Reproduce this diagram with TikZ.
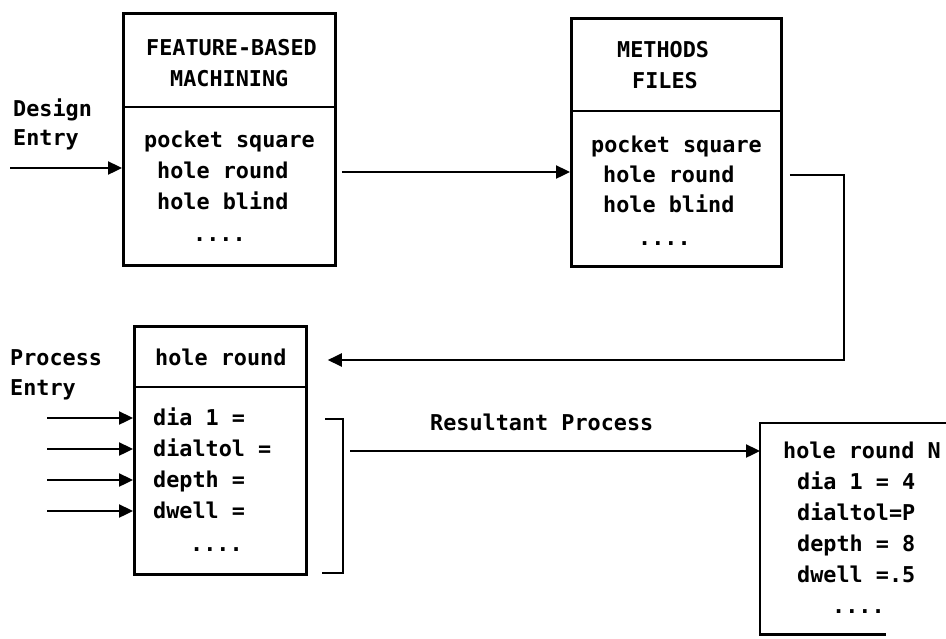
\documentclass[tikz,border=0pt]{standalone}
\usepackage{fontspec}
\setmonofont{DejaVu Sans Mono}
\usetikzlibrary{arrows.meta}
\begin{document}
\begin{tikzpicture}[x=1pt,y=-1pt,
  txt/.style={anchor=base west, inner sep=0pt, font=\ttfamily\bfseries\fontsize{21.8}{22}\selectfont},
  box/.style={draw, line width=2.8pt, anchor=north west, inner sep=0pt},
  openbox/.style={anchor=north west, inner sep=0pt},
  boxline/.style={line width=2.6pt},
  divider/.style={line width=2.6pt},
  arr/.style={line width=2.4pt, -{Triangle[length=14pt,width=13pt]}},
  brk/.style={line width=2.4pt}]
\useasboundingbox (0,0) rectangle (946,638);
\fill[white] (0,0) rectangle (946,638);

% boxes
\node[box, minimum width=212pt, minimum height=252pt] (b1) at (122,12) {};
\node[box, minimum width=210pt, minimum height=248pt] (b2) at (570,17) {};
\node[box, minimum width=172pt, minimum height=248pt] (b3) at (133,325) {};
\node[openbox, minimum width=186pt, minimum height=211pt] (b4) at (760,423) {};
\draw[boxline] (b4.north east) -- (b4.north west) -- (b4.south west) -- ([xshift=-60pt]b4.south east);
\draw[divider] (b1.west |- 0,107) -- (b1.east |- 0,107);
\draw[divider] (b2.west |- 0,111) -- (b2.east |- 0,111);
\draw[divider] (b3.west |- 0,387) -- (b3.east |- 0,387);

% box 1 texts
\node[txt] (t1a) at (146,55) {FEATURE-BASED};
\node[txt] (t1b) at (170,86) {MACHINING};
\node[txt] (t1c) at (144,147) {pocket square};
\node[txt] (t1d) at (157,178) {hole round};
\node[txt] (t1e) at (157,209) {hole blind};
\node[txt] (t1f) at (193,241) {....};

% box 2 texts
\node[txt] (t2a) at (617,57) {METHODS};
\node[txt] (t2b) at (632,88) {FILES};
\node[txt] (t2c) at (591,152) {pocket square};
\node[txt] (t2d) at (603,182) {hole round};
\node[txt] (t2e) at (603,212) {hole blind};
\node[txt] (t2f) at (638,245) {....};

% box 3 texts
\node[txt] (t3a) at (155,365) {hole round};
\node[txt] (t3b) at (153,425) {dia 1 =};
\node[txt] (t3c) at (153,456) {dialtol =};
\node[txt] (t3d) at (153,487) {depth =};
\node[txt] (t3e) at (153,518) {dwell =};
\node[txt] (t3f) at (190,551) {....};

% box 4 texts
\node[txt] (t4a) at (783,458) {hole round N};
\node[txt] (t4b) at (797,489) {dia 1 = 4};
\node[txt] (t4c) at (797,520) {dialtol=P};
\node[txt] (t4d) at (797,551) {depth = 8};
\node[txt] (t4e) at (797,582) {dwell =.5};
\node[txt] (t4f) at (832,613) {....};

% side labels
\node[txt] (l1) at (13,116) {Design};
\node[txt] (l2) at (13,145) {Entry};
\node[txt] (l3) at (10,365) {Process};
\node[txt] (l4) at (10,395) {Entry};
\node[txt] (l5) at (430,430) {Resultant Process};

% connectors
\coordinate (de) at (10,168);
\draw[arr] (de) -- (b1.west |- de);
\draw[arr, shorten <=5pt] (b1.east |- 0,172) -- (b2.west |- 0,172);
\coordinate (rc) at (844,360);
\draw[arr, shorten <=7pt, shorten >=20pt] (b2.east |- 0,175) -- (rc |- 0,175) -- (rc) -- (b3.east |- rc);
\foreach \yy [count=\i] in {418,449,480,511} {
  \coordinate (pe\i) at (47,\yy);
  \draw[arr] (pe\i) -- (b3.west |- pe\i);
}
% bracket
\coordinate (bt) at (343,419);
\coordinate (bb) at (343,573);
\draw[brk] (bt) ++(-18,0) -- (bt) -- (bb) -- ++(-21,0);
\coordinate (rs) at (350,451);
\draw[arr] (rs) -- (b4.west |- rs);
\end{tikzpicture}
\end{document}
